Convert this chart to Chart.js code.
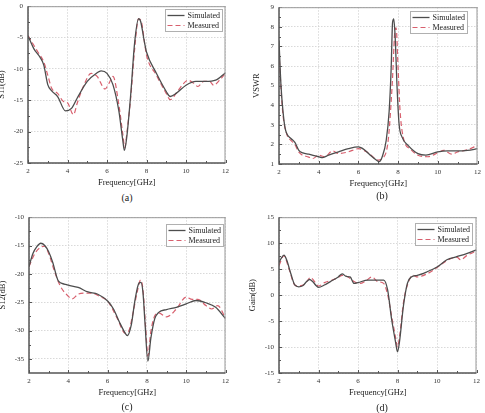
<!DOCTYPE html>
<html>
<head>
<meta charset="utf-8">
<script src="https://cdn.jsdelivr.net/npm/chart.js@4"></script>
<style>
  body { margin: 0; background: #fff; width: 485px; height: 413px; position: relative; overflow: hidden; font-family: "Liberation Serif", serif; }
  canvas { position: absolute; }
  .cap { position: absolute; font-size: 10px; color: #222; transform: translate(-50%, -50%); }
</style>
</head>
<body>
<canvas id="pa" width="235" height="194" style="left:-2px;top:-3px"></canvas>
<canvas id="pb" width="236" height="194" style="left:249px;top:-2px"></canvas>
<canvas id="pc" width="234" height="193" style="left:-1px;top:208px"></canvas>
<canvas id="pd" width="235" height="193" style="left:249px;top:208px"></canvas>
<div class="cap" style="left:127px;top:197px">(a)</div>
<div class="cap" style="left:382px;top:195px">(b)</div>
<div class="cap" style="left:127px;top:406px">(c)</div>
<div class="cap" style="left:382px;top:407px">(d)</div>
<script>
const seriesNames = ["Simulated", "Measured"];
const freqTicks = [2, 4, 6, 8, 10, 12];

// (a) S11
const s11SimF = [2, 2.3, 2.6, 2.8, 3.0, 3.2, 3.5, 3.9, 4.2, 4.5, 5.0, 5.5, 5.7, 6.0, 6.3, 6.6, 6.8, 6.88, 7.0, 7.2, 7.4, 7.6, 7.7, 7.9, 8.0, 8.5, 9.0, 9.2, 9.5, 10, 10.5, 11, 11.5, 12];
const s11Sim  = [-4.7, -6.8, -8.1, -9.4, -12.5, -13.5, -14.4, -16.7, -16.3, -14.6, -12.0, -10.6, -10.3, -10.7, -12.5, -16.7, -21.4, -23.0, -20.9, -14.1, -5.8, -2.0, -2.4, -5.8, -7.3, -10.7, -13.6, -14.4, -13.9, -12.6, -12.0, -12.0, -11.8, -10.6];
const s11MeaF = [2, 2.5, 2.8, 3.0, 3.2, 3.5, 3.8, 4.0, 4.3, 4.5, 4.8, 5.2, 5.5, 5.9, 6.1, 6.3, 6.6, 6.8, 6.9, 7.0, 7.2, 7.4, 7.6, 7.75, 7.9, 8.0, 8.5, 9.0, 9.2, 9.5, 9.8, 10.1, 10.4, 10.6, 10.9, 11.2, 11.4, 11.7, 12];
const s11Mea  = [-4.7, -7.3, -8.9, -11.0, -13.1, -13.9, -15.2, -15.4, -17.3, -15.4, -12.8, -10.7, -11.2, -13.2, -12.3, -11.2, -15.7, -20.4, -22.5, -20.4, -14.6, -6.8, -2.0, -2.6, -5.8, -7.8, -11.0, -13.9, -14.9, -13.9, -12.6, -11.8, -12.3, -12.8, -12.0, -12.0, -12.6, -11.8, -10.7];
const s11Ticks = [-25, -20, -15, -10, -5, 0];

// (b) VSWR
const vswrSimF = [2, 2.1, 2.2, 2.3, 2.4, 2.6, 2.8, 3.0, 3.2, 3.5, 4.0, 4.2, 4.5, 5.0, 5.5, 6.0, 6.3, 6.6, 6.9, 7.05, 7.2, 7.4, 7.55, 7.65, 7.72, 7.78, 7.85, 7.95, 8.05, 8.2, 8.5, 9.0, 9.4, 10, 10.5, 11, 11.5, 12];
const vswrSim  = [7.3, 5.0, 3.7, 2.87, 2.53, 2.3, 2.1, 1.7, 1.57, 1.5, 1.37, 1.33, 1.45, 1.62, 1.78, 1.87, 1.73, 1.45, 1.2, 1.12, 1.37, 2.2, 3.7, 5.87, 8.2, 8.4, 7.53, 4.87, 3.03, 2.37, 1.95, 1.53, 1.45, 1.62, 1.67, 1.67, 1.7, 1.78];
const vswrMeaF = [2, 2.1, 2.2, 2.4, 2.6, 2.8, 3.0, 3.5, 3.7, 4.0, 4.3, 4.7, 5.0, 5.5, 6.0, 6.5, 7.0, 7.2, 7.5, 7.7, 7.85, 7.9, 8.0, 8.1, 8.3, 8.6, 9.0, 9.5, 10, 10.3, 10.7, 11, 11.5, 12];
const vswrMea  = [6.7, 4.87, 3.5, 2.5, 2.2, 2.0, 1.6, 1.35, 1.28, 1.45, 1.37, 1.67, 1.53, 1.62, 1.78, 1.57, 1.2, 1.28, 2.2, 5.0, 7.87, 7.95, 5.87, 3.7, 2.2, 1.78, 1.45, 1.37, 1.57, 1.7, 1.5, 1.62, 1.73, 1.95];
const vswrTicks = [1, 2, 3, 4, 5, 6, 7, 8, 9];

// (c) S12
const s12SimF = [2, 2.2, 2.4, 2.6, 2.8, 3.0, 3.2, 3.5, 3.8, 4.0, 4.5, 5.0, 5.5, 6.0, 6.3, 6.6, 6.9, 7.0, 7.2, 7.4, 7.6, 7.7, 7.8, 7.9, 8.05, 8.2, 8.4, 8.6, 9.0, 9.5, 10, 10.5, 11, 11.5, 12];
const s12Sim  = [-18.7, -16.4, -15.2, -14.6, -15.0, -16.1, -17.9, -21.3, -21.8, -22.0, -22.4, -23.2, -23.6, -24.8, -26.2, -28.5, -30.5, -30.9, -29.1, -24.5, -21.6, -21.5, -23.3, -28.5, -35.4, -31.4, -27.9, -26.8, -26.3, -25.9, -25.3, -24.7, -25.1, -25.9, -27.9];
const s12MeaF = [2, 2.3, 2.6, 2.8, 3.0, 3.3, 3.6, 3.9, 4.2, 4.5, 4.8, 5.2, 5.6, 6.0, 6.5, 6.9, 7.1, 7.3, 7.5, 7.68, 7.8, 7.95, 8.05, 8.2, 8.4, 8.6, 9.0, 9.5, 10, 10.3, 10.6, 11, 11.3, 11.6, 12];
const s12Mea  = [-18.7, -16.4, -15.3, -15.1, -16.4, -19.6, -22.2, -23.6, -24.4, -23.6, -23.4, -23.4, -24.0, -24.8, -27.9, -30.5, -29.9, -26.8, -23.3, -21.1, -22.8, -30.2, -34.5, -30.2, -27.4, -26.9, -27.6, -26.2, -24.1, -24.5, -24.5, -25.6, -26.2, -25.6, -27.8];
const s12Ticks = [-35, -30, -25, -20, -15, -10];

// (d) Gain
const gainSimF = [2, 2.1, 2.25, 2.4, 2.6, 2.8, 3.0, 3.2, 3.4, 3.55, 3.7, 3.9, 4.0, 4.3, 4.6, 5.0, 5.2, 5.4, 5.6, 5.8, 6.0, 6.5, 7.0, 7.3, 7.5, 7.7, 7.9, 8.0, 8.1, 8.3, 8.5, 8.7, 9.0, 9.5, 10, 10.5, 11, 11.5, 12];
const gainSim  = [6.3, 7.0, 7.7, 6.65, 4.1, 1.95, 1.6, 1.8, 2.6, 3.0, 2.6, 1.75, 1.5, 1.95, 2.6, 3.5, 4.1, 3.6, 3.5, 2.25, 2.4, 2.9, 2.9, 2.9, 1.0, -4.6, -9.0, -10.9, -9.0, -2.1, 2.25, 3.5, 3.8, 4.5, 5.4, 6.8, 7.4, 8.0, 8.7];
const gainMeaF = [2, 2.25, 2.5, 2.8, 3.0, 3.3, 3.6, 3.8, 4.0, 4.3, 4.7, 5.0, 5.2, 5.5, 5.8, 6.1, 6.4, 6.7, 7.0, 7.3, 7.5, 7.7, 7.9, 8.0, 8.1, 8.3, 8.5, 8.8, 9.0, 9.5, 10, 10.5, 11, 11.2, 11.5, 12];
const gainMea  = [5.7, 7.6, 5.1, 1.95, 1.75, 2.1, 3.4, 2.6, 1.75, 2.4, 2.9, 3.4, 3.8, 3.5, 2.6, 2.25, 2.75, 3.5, 2.6, 2.25, 0.1, -4.0, -8.1, -10.0, -8.1, -1.5, 1.95, 3.8, 3.5, 4.1, 5.3, 6.65, 7.3, 6.8, 7.6, 8.5];
const gainTicks = [-15, -10, -5, 0, 5, 10, 15];

const SERIF = "'Liberation Serif', 'Times New Roman', serif";
const SIM_COLOR = "#4d4d4d";
const MEA_COLOR = "#d8606e";

function pts(xs, ys) {
  return xs.map((x, i) => ({ x: x, y: ys[i] }));
}

// frame, inward ticks (major + minor) and the legend box inside the plot
const decor = {
  id: "decor",
  afterDatasetsDraw(chart, args, o) {
    const ctx = chart.ctx;
    const a = chart.chartArea;
    const xs = chart.scales.x, ys = chart.scales.y;
    ctx.save();
    // ticks
    ctx.strokeStyle = "#555";
    ctx.lineWidth = 1;
    const xt = o.xTicks, yt = o.yTicks;
    ctx.beginPath();
    for (let i = 0; i < xt.length; i++) {
      const px = Math.round(xs.getPixelForValue(xt[i])) + 0.5;
      ctx.moveTo(px, a.bottom); ctx.lineTo(px, a.bottom - 3);
      if (i < xt.length - 1) {
        const mx = Math.round(xs.getPixelForValue((xt[i] + xt[i + 1]) / 2)) + 0.5;
        ctx.moveTo(mx, a.bottom); ctx.lineTo(mx, a.bottom - 2);
      }
    }
    for (let i = 0; i < yt.length; i++) {
      const py = Math.round(ys.getPixelForValue(yt[i])) + 0.5;
      ctx.moveTo(a.left, py); ctx.lineTo(a.left + 3, py);
      if (i < yt.length - 1) {
        const my = Math.round(ys.getPixelForValue((yt[i] + yt[i + 1]) / 2)) + 0.5;
        ctx.moveTo(a.left, my); ctx.lineTo(a.left + 2, my);
      }
    }
    ctx.stroke();
    // frame
    ctx.strokeStyle = "#999";
    ctx.lineWidth = 1;
    ctx.beginPath();
    ctx.moveTo(a.left, a.top + 0.5); ctx.lineTo(a.right, a.top + 0.5);
    ctx.moveTo(a.right - 0.5, a.top); ctx.lineTo(a.right - 0.5, a.bottom);
    ctx.stroke();
    ctx.strokeStyle = "#555";
    ctx.lineWidth = 1.5;
    ctx.beginPath();
    ctx.moveTo(a.left, a.top); ctx.lineTo(a.left, a.bottom); ctx.lineTo(a.right, a.bottom);
    ctx.stroke();
    // legend
    const w = 57, h = 22;
    const lx = Math.round(a.right - o.right - w) + 0.5;
    const ly = Math.round(a.top + o.top) + 0.5;
    ctx.fillStyle = "#fff";
    ctx.fillRect(lx, ly, w, h);
    ctx.strokeStyle = "#b0b0b0";
    ctx.lineWidth = 1;
    ctx.strokeRect(lx, ly, w, h);
    ctx.font = "8px " + SERIF;
    ctx.textBaseline = "middle";
    chart.data.datasets.forEach((ds, i) => {
      const ry = ly + 6 + i * 10;
      ctx.strokeStyle = ds.borderColor;
      ctx.lineWidth = ds.borderWidth;
      ctx.setLineDash(ds.borderDash || []);
      ctx.beginPath();
      ctx.moveTo(lx + 2, ry); ctx.lineTo(lx + 19, ry);
      ctx.stroke();
      ctx.setLineDash([]);
      ctx.fillStyle = "#222";
      ctx.fillText(ds.label, lx + 22, ry);
    });
    ctx.restore();
  }
};

function makePanel(id, simF, sim, meaF, mea, yTicks, yMin, yMax, yTitle, yTitlePad, legendPos) {
  const ctx = document.getElementById(id).getContext("2d");
  return new Chart(ctx, {
    type: "line",
    data: {
      datasets: [
        { label: seriesNames[0], data: pts(simF, sim), borderColor: SIM_COLOR, borderWidth: 1.3,
          pointRadius: 0, cubicInterpolationMode: "monotone", fill: false },
        { label: seriesNames[1], data: pts(meaF, mea), borderColor: MEA_COLOR, borderWidth: 1.2,
          borderDash: [5, 3], pointRadius: 0, cubicInterpolationMode: "monotone", fill: false }
      ]
    },
    options: {
      responsive: false,
      animation: false,
      devicePixelRatio: 1,
      layout: { padding: { top: 6, right: 6, left: 0, bottom: 0 } },
      plugins: {
        legend: { display: false },
        tooltip: { enabled: false },
        decor: { xTicks: freqTicks, yTicks: yTicks, right: legendPos[0], top: legendPos[1] }
      },
      scales: {
        x: {
          type: "linear", min: 2, max: 12,
          afterBuildTicks: s => { s.ticks = freqTicks.map(v => ({ value: v })); },
          afterFit: s => { s.height = 28; },
          ticks: { font: { family: SERIF, size: 7 }, color: "#333", padding: 4, autoSkip: false, maxRotation: 0 },
          grid: { color: "#cfcfcf", lineWidth: 0.8, drawTicks: false, borderDash: [1.5, 1.5] },
          border: { display: false, dash: [1.5, 1.5] },
          title: { display: true, text: "Frequency[GHz]", font: { family: SERIF, size: 8.5 }, color: "#222",
                   padding: { top: 0, bottom: 3 } }
        },
        y: {
          type: "linear", min: yMin, max: yMax,
          afterBuildTicks: s => { s.ticks = yTicks.map(v => ({ value: v })); },
          afterFit: s => { s.width = 30; },
          ticks: { font: { family: SERIF, size: 7 }, color: "#333", padding: 5, autoSkip: false },
          grid: { color: "#cfcfcf", lineWidth: 0.8, drawTicks: false, borderDash: [1.5, 1.5] },
          border: { display: false, dash: [1.5, 1.5] },
          title: { display: true, text: yTitle, font: { family: SERIF, size: 8.5, lineHeight: 1 }, color: "#222",
                   padding: { top: yTitlePad, bottom: 0 } }
        }
      }
    },
    plugins: [decor]
  });
}

makePanel("pa", s11SimF, s11Sim, s11MeaF, s11Mea, s11Ticks, -25, 0, "S11(dB)", 0, [4, 3]);
makePanel("pb", vswrSimF, vswrSim, vswrMeaF, vswrMea, vswrTicks, 1, 9, "VSWR", 4, [11, 4]);
makePanel("pc", s12SimF, s12Sim, s12MeaF, s12Mea, s12Ticks, -37.5, -10, "S12(dB)", 0, [3, 7]);
makePanel("pd", gainSimF, gainSim, gainMeaF, gainMea, gainTicks, -15, 15, "Gain(dB)", 0, [5, 6]);
</script>
</body>
</html>
